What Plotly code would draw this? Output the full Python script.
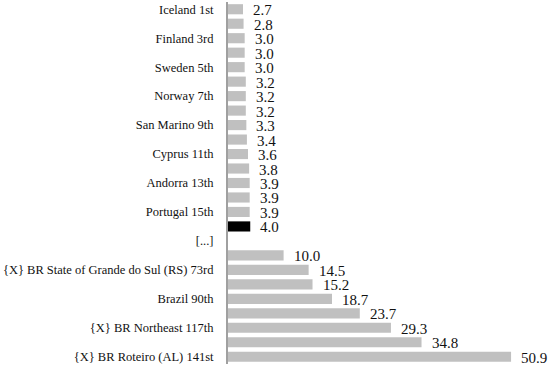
import plotly.graph_objects as go

categories = [
    "Iceland 1st", "2nd", "Finland 3rd", "4th", "Sweden 5th", "6th",
    "Norway 7th", "8th", "San Marino 9th", "10th", "Cyprus 11th", "12th",
    "Andorra 13th", "14th", "Portugal 15th", "16th", "[...]",
    "72nd", "{X} BR State of Grande do Sul (RS) 73rd", "80th", "Brazil 90th",
    "100th", "{X} BR Northeast 117th", "130th", "{X} BR Roteiro (AL) 141st",
]
tick_labels = [
    "Iceland 1st", "", "Finland 3rd", "", "Sweden 5th", "",
    "Norway 7th", "", "San Marino 9th", "", "Cyprus 11th", "",
    "Andorra 13th", "", "Portugal 15th", "", "[...]",
    "", "{X} BR State of Grande do Sul (RS) 73rd", "", "Brazil 90th",
    "", "{X} BR Northeast 117th", "", "{X} BR Roteiro (AL) 141st",
]
values = [
    2.7, 2.8, 3.0, 3.0, 3.0, 3.2, 3.2, 3.2, 3.3, 3.4, 3.6, 3.8,
    3.9, 3.9, 3.9, 4.0, None,
    10.0, 14.5, 15.2, 18.7, 23.7, 29.3, 34.8, 50.9,
]
highlight = "16th"

colors = ["#000000" if c == highlight else "#C0C0C0" for c in categories]

fig = go.Figure(go.Bar(
    y=categories, x=values, orientation="h",
    marker=dict(color=colors, line=dict(width=0)),
    hoverinfo="x+y",
))

for c, v in zip(categories, values):
    if v is None:
        continue
    fig.add_annotation(
        x=v, y=c, xref="x", yref="y", text=f"{v:.1f}", showarrow=False,
        xanchor="left", yanchor="middle", xshift=8, yshift=-1,
        font=dict(family="Liberation Serif, serif", size=15, color="#111"),
    )

fig.update_layout(
    width=550, height=367,
    margin=dict(l=228, r=0, t=2, b=3, autoexpand=False),
    plot_bgcolor="white", paper_bgcolor="white",
    bargap=0.3, showlegend=False,
    font=dict(family="Liberation Serif, serif", size=13, color="#111"),
)
fig.update_xaxes(range=[0, 57.9], visible=False, showgrid=False,
                 zeroline=False, automargin=False)
fig.update_yaxes(
    categoryorder="array", categoryarray=categories,
    range=[len(categories) - 0.5, -0.5], automargin=False,
    tickmode="array", tickvals=categories, ticktext=tick_labels,
    showline=True, linecolor="#A0A0A0", linewidth=2, ticks="",
    ticklabelstandoff=10, showgrid=False, zeroline=False,
    tickfont=dict(family="Liberation Serif, serif", size=12.5, color="#111"),
)

fig.write_html("out.html", config={"displayModeBar": False},
               post_script="document.body.style.margin='0';")
